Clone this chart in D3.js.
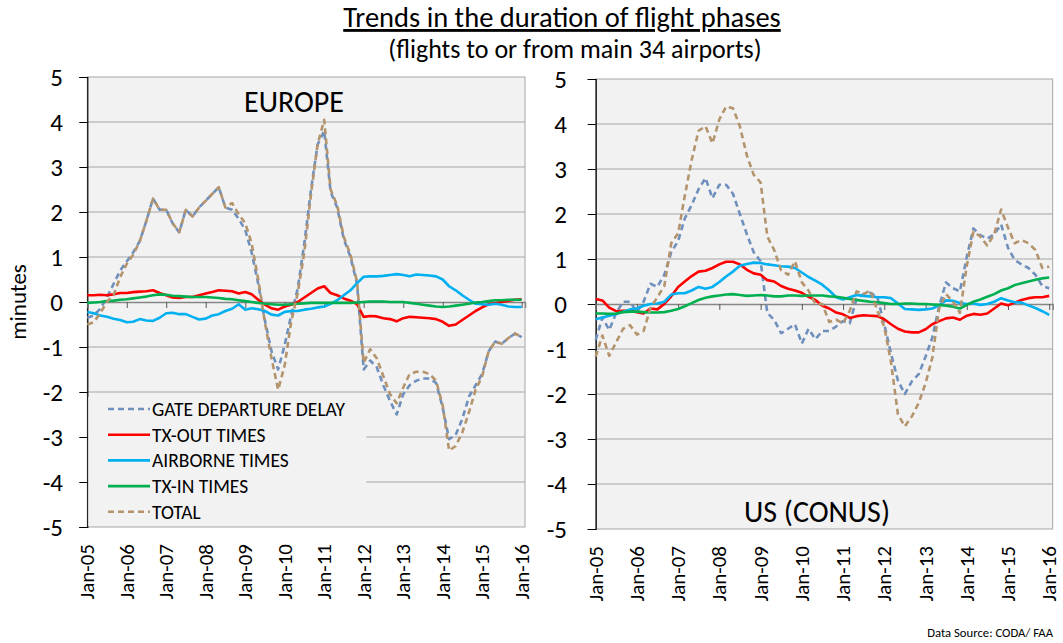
<!DOCTYPE html>
<html>
<head>
<meta charset="utf-8">
<script src="https://cdn.jsdelivr.net/npm/d3@7"></script>
<style>
  body { margin: 0; background: #fff; }
  svg text { font-family: Calibri, Carlito, Lato, sans-serif; fill: #000; }
</style>
</head>
<body>
<div id="chart"></div>
<script>
// year tick labels (one per January)
const tickLabels = ["Jan-05", "Jan-06", "Jan-07", "Jan-08", "Jan-09", "Jan-10",
  "Jan-11", "Jan-12", "Jan-13", "Jan-14", "Jan-15", "Jan-16"];
const yTicks = [-5, -4, -3, -2, -1, 0, 1, 2, 3, 4, 5];
const seriesNames = ["GATE DEPARTURE DELAY", "TX-OUT TIMES", "AIRBORNE TIMES", "TX-IN TIMES", "TOTAL"];

// readings every second month, Jan-05 .. Jan-16
const euGate = [-0.35, -0.3, -0.15, 0.1, 0.4, 0.7, 0.9, 1.1, 1.35, 1.8,
  2.3, 2.05, 2.05, 1.75, 1.55, 2.05, 1.9, 2.1, 2.25, 2.4,
  2.55, 2.1, 2.05, 1.85, 1.6, 1.1, 0.4, -0.4, -1.1, -1.5,
  -0.95, -0.3, 0.3, 1.3, 2.5, 3.5, 3.8, 2.45, 2.1, 1.4,
  1.0, 0.4, -1.5, -1.3, -1.45, -1.85, -2.2, -2.5, -2.05, -1.85,
  -1.75, -1.7, -1.7, -1.8, -2.35, -3.05, -2.95, -2.6, -2.1, -1.85,
  -1.6, -1.1, -0.88, -0.93, -0.8, -0.7, -0.78];
const euTxOut = [0.15, 0.15, 0.16, 0.15, 0.17, 0.2, 0.2, 0.22, 0.23, 0.24,
  0.26, 0.2, 0.15, 0.1, 0.09, 0.11, 0.11, 0.15, 0.19, 0.22,
  0.26, 0.25, 0.24, 0.19, 0.22, 0.17, 0.05, -0.06, -0.14, -0.17,
  -0.1, -0.06, 0.0, 0.1, 0.2, 0.3, 0.35, 0.2, 0.15, 0.08,
  0.03, -0.05, -0.33, -0.31, -0.32, -0.36, -0.38, -0.43, -0.36, -0.33,
  -0.34, -0.35, -0.36, -0.38, -0.44, -0.53, -0.5, -0.4, -0.3, -0.2,
  -0.12, -0.05, -0.02, 0.0, 0.03, 0.05, 0.06];
const euAirborne = [-0.22, -0.25, -0.3, -0.33, -0.37, -0.4, -0.45, -0.44, -0.38, -0.41,
  -0.42, -0.35, -0.25, -0.24, -0.27, -0.27, -0.33, -0.39, -0.37, -0.3,
  -0.27, -0.2, -0.15, -0.05, -0.17, -0.14, -0.16, -0.2, -0.28, -0.3,
  -0.22, -0.2, -0.2, -0.17, -0.15, -0.12, -0.1, -0.04, 0.04, 0.15,
  0.26, 0.42, 0.56, 0.57, 0.57, 0.58, 0.6, 0.62, 0.6, 0.57,
  0.61, 0.6, 0.59, 0.57, 0.5, 0.35, 0.26, 0.15, 0.05, -0.04,
  -0.05, -0.06, -0.04, -0.06, -0.1, -0.11, -0.11];
const euTxIn = [-0.02, -0.01, 0.0, 0.02, 0.03, 0.05, 0.06, 0.08, 0.1, 0.12,
  0.15, 0.17, 0.16, 0.14, 0.13, 0.12, 0.11, 0.11, 0.11, 0.1,
  0.09, 0.07, 0.06, 0.04, 0.02, 0.0, -0.02, -0.04, -0.05, -0.06,
  -0.06, -0.05, -0.04, -0.03, -0.02, -0.02, -0.02, -0.02, -0.02, -0.02,
  -0.02, -0.01, 0.0, 0.01, 0.01, 0.01, 0.0, 0.0, 0.0, -0.02,
  -0.04, -0.06, -0.08, -0.1, -0.11, -0.1, -0.08, -0.06, -0.04, -0.01,
  0.0, 0.02, 0.04, 0.04, 0.05, 0.05, 0.05];
const euTotal = [-0.5, -0.45, -0.25, 0.0, 0.15, 0.55, 0.85, 1.05, 1.35, 1.8,
  2.3, 2.05, 2.05, 1.75, 1.55, 2.05, 1.9, 2.1, 2.25, 2.4,
  2.55, 2.1, 2.2, 1.95, 1.75, 1.3, 0.5, -0.45, -1.25, -1.95,
  -1.4, -0.45, 0.2, 1.1, 2.4, 3.5, 4.05, 2.5, 2.15, 1.45,
  1.05, 0.45, -1.35, -1.05, -1.25, -1.65, -2.05, -2.25, -1.9, -1.6,
  -1.55, -1.55, -1.6, -1.75, -2.3, -3.3, -3.2, -2.9, -2.45, -1.95,
  -1.65, -1.1, -0.88, -0.93, -0.8, -0.7, -0.78];

const usGate = [-0.8, -0.3, -0.58, -0.2, 0.05, 0.05, -0.18, 0.05, 0.45, 0.38,
  0.65, 1.15, 1.4, 1.9, 2.2, 2.55, 2.8, 2.35, 2.65, 2.65,
  2.45, 2.0, 1.55, 1.15, 0.95, -0.2, -0.35, -0.65, -0.55, -0.45,
  -0.88, -0.55, -0.78, -0.6, -0.6, -0.5, -0.38, -0.43, 0.12, 0.22,
  0.25, 0.15, -0.45, -1.1, -1.7, -2.0, -1.72, -1.56, -1.17, -0.75,
  -0.05, 0.48, 0.35, 0.28, 1.05, 1.68, 1.53, 1.45, 1.55, 1.77,
  1.25, 0.98, 0.88, 0.8, 0.65, 0.4, 0.35];
const usTxOut = [0.11, 0.08, -0.08, -0.16, -0.15, -0.15, -0.18, -0.21, -0.1, -0.12,
  0.0, 0.17, 0.38, 0.5, 0.62, 0.72, 0.74, 0.8, 0.88, 0.94,
  0.94, 0.88, 0.76, 0.68, 0.65, 0.53, 0.5, 0.4, 0.34, 0.3,
  0.25, 0.16, 0.09, -0.04, -0.1, -0.19, -0.23, -0.31, -0.27, -0.25,
  -0.26, -0.27, -0.34, -0.45, -0.55, -0.61, -0.63, -0.63, -0.56, -0.45,
  -0.38, -0.32, -0.3, -0.35, -0.26, -0.22, -0.24, -0.21, -0.1, 0.01,
  -0.03, 0.03, 0.09, 0.13, 0.15, 0.15, 0.18];
const usAirborne = [-0.34, -0.3, -0.26, -0.22, -0.17, -0.12, -0.1, -0.04, 0.0, 0.01,
  0.05, 0.21, 0.24, 0.24, 0.3, 0.38, 0.34, 0.38, 0.49, 0.61,
  0.72, 0.85, 0.89, 0.92, 0.91, 0.88, 0.86, 0.84, 0.83, 0.8,
  0.7, 0.6, 0.52, 0.43, 0.3, 0.15, 0.1, 0.15, 0.2, 0.18,
  0.17, 0.15, 0.15, 0.13, 0.01, -0.11, -0.12, -0.13, -0.12, -0.1,
  -0.03, 0.08, 0.07, 0.02, 0.0, 0.01, -0.02, 0.0, 0.05, 0.13,
  0.08, 0.04, 0.03, -0.03, -0.09, -0.16, -0.24];
const usTxIn = [-0.21, -0.21, -0.22, -0.21, -0.18, -0.17, -0.17, -0.18, -0.19, -0.19,
  -0.18, -0.15, -0.11, -0.05, 0.02, 0.09, 0.14, 0.17, 0.19, 0.21,
  0.22, 0.2, 0.18, 0.19, 0.2, 0.19, 0.17, 0.17, 0.19, 0.19,
  0.18, 0.19, 0.19, 0.19, 0.17, 0.16, 0.14, 0.11, 0.09, 0.07,
  0.05, 0.04, 0.02, 0.0, 0.0, 0.01, 0.01, 0.0, 0.0, -0.01,
  -0.02, -0.04, -0.06, -0.1, -0.02, 0.05, 0.1, 0.16, 0.22, 0.3,
  0.35, 0.42, 0.46, 0.5, 0.54, 0.57, 0.59];
const usTotal = [-1.17, -0.7, -1.15, -0.85, -0.55, -0.47, -0.68, -0.6, -0.1, 0.15,
  0.4, 1.35, 1.57, 2.4, 3.2, 3.85, 3.95, 3.57, 4.1, 4.39,
  4.35, 3.95, 3.3, 2.87, 2.7, 1.5, 1.2, 0.75, 0.65, 0.95,
  0.48, 0.3, 0.0, 0.0, -0.4, -0.35, -0.43, -0.15, 0.28, 0.22,
  0.3, -0.15, -0.5, -1.3, -2.45, -2.72, -2.5, -2.2, -1.76, -1.2,
  -0.1, 0.22, 0.05, -0.2, 0.85, 1.61, 1.5, 1.3, 1.55, 2.1,
  1.7, 1.35, 1.42, 1.35, 1.2, 0.8, 0.83];

const colors = ["#6f8fbd", "#ff0000", "#00b0f0", "#00b050", "#b4946c"];
const dashes = ["6,4", null, null, null, "6,4"];

const width = 1063, height = 643;
const start = new Date(2005, 0, 1);
const sampleDates = d3.timeMonth.range(start, new Date(2016, 1, 1), 2);
const tickDates = d3.timeYear.range(start, new Date(2016, 1, 1));

const panels = [
    { name: "EUROPE", series: [euGate, euTxOut, euAirborne, euTxIn, euTotal],
      left: 87.3, right: 525, top: 77, bottom: 527, labelRight: 63,
      nameX: 294, nameY: 112, legend: true },
    { name: "US (CONUS)", series: [usGate, usTxOut, usAirborne, usTxIn, usTotal],
      left: 595.7, right: 1052.7, top: 79, bottom: 529, labelRight: 567,
      nameX: 817, nameY: 522, legend: false }
];

const svg = d3.select('#chart').append('svg')
    .attr('width', width)
    .attr('height', height);

svg.append('text')
    .attr('x', 562).attr('y', 27)
    .attr('text-anchor', 'middle')
    .attr('font-size', 28.5)
    .attr('text-decoration', 'underline')
    .text('Trends in the duration of flight phases');

svg.append('text')
    .attr('x', 575).attr('y', 58)
    .attr('text-anchor', 'middle')
    .attr('font-size', 26)
    .text('(flights to or from main 34 airports)');

svg.append('text')
    .attr('transform', 'translate(26,302) rotate(-90)')
    .attr('text-anchor', 'middle')
    .attr('font-size', 23)
    .text('minutes');

svg.append('text')
    .attr('x', 1053).attr('y', 637)
    .attr('text-anchor', 'end')
    .attr('font-size', 12.7)
    .text('Data Source: CODA/ FAA');

panels.forEach(p => {
    const x = d3.scaleTime()
        .domain([start, new Date(2016, 1, 1)])
        .range([p.left, p.right]);
    const y = d3.scaleLinear()
        .domain([-5, 5])
        .range([p.bottom, p.top]);

    const g = svg.append('g');

    g.append('rect')
        .attr('x', p.left).attr('y', p.top)
        .attr('width', p.right - p.left).attr('height', p.bottom - p.top)
        .attr('fill', '#f2f2f2')
        .attr('stroke', '#a6a6a6');

    // gridlines
    g.selectAll('line.grid')
        .data(yTicks.filter(v => v !== 0 && v !== -5 && v !== 5))
        .join('line')
        .attr('class', 'grid')
        .attr('x1', p.left).attr('x2', p.right)
        .attr('y1', d => y(d)).attr('y2', d => y(d))
        .attr('stroke', '#a6a6a6')
        .attr('stroke-width', 1.2);

    // value axis
    const ya = g.append('g')
        .attr('transform', `translate(${p.left},0)`)
        .call(d3.axisLeft(y).tickValues(yTicks).tickSize(8).tickFormat(d => String(d)));
    ya.select('.domain').attr('stroke', '#000').attr('stroke-width', 1.2);
    ya.selectAll('.tick line').attr('stroke', '#000');
    ya.selectAll('.tick text')
        .attr('font-size', 25)
        .attr('x', p.labelRight - p.left)
        .attr('dy', '0.35em');

    // category axis at zero
    const xa = g.append('g')
        .attr('transform', `translate(0,${y(0)})`)
        .call(d3.axisBottom(x).tickValues(tickDates).tickSize(6).tickFormat(''));
    xa.select('.domain').attr('stroke', '#868686').attr('stroke-width', 1.5);
    xa.selectAll('.tick line').attr('stroke', '#595959');

    // tick labels below the plot
    g.selectAll('text.xlab')
        .data(tickDates)
        .join('text')
        .attr('class', 'xlab')
        .attr('transform', d => `translate(${x(d) + 7},${p.bottom + 17}) rotate(-90)`)
        .attr('text-anchor', 'end')
        .attr('font-size', 21)
        .text((d, i) => tickLabels[i]);

    if (p.legend) {
        g.append('rect')
            .attr('x', p.left + 1).attr('y', 397)
            .attr('width', 278).attr('height', p.bottom - 398)
            .attr('fill', '#f2f2f2');
    }

    const line = d3.line()
        .x((d, i) => x(sampleDates[i]))
        .y(d => y(d));

    p.series.forEach((s, k) => {
        g.append('path')
            .datum(s)
            .attr('fill', 'none')
            .attr('stroke', colors[k])
            .attr('stroke-width', 2.6)
            .attr('stroke-dasharray', dashes[k])
            .attr('stroke-linejoin', 'round')
            .attr('d', line);
    });

    g.append('text')
        .attr('x', p.nameX).attr('y', p.nameY)
        .attr('text-anchor', 'middle')
        .attr('font-size', 30)
        .text(p.name);

    if (p.legend) {
        const lg = g.append('g');
        seriesNames.forEach((n, k) => {
            const ly = 409 + k * 25.7;
            lg.append('line')
                .attr('x1', 108).attr('x2', 150)
                .attr('y1', ly).attr('y2', ly)
                .attr('stroke', colors[k])
                .attr('stroke-width', 2.6)
                .attr('stroke-dasharray', dashes[k]);
            lg.append('text')
                .attr('x', 152).attr('y', ly)
                .attr('dy', '0.35em')
                .attr('font-size', 19.5)
                .text(n);
        });
    }
});
</script>
</body>
</html>
